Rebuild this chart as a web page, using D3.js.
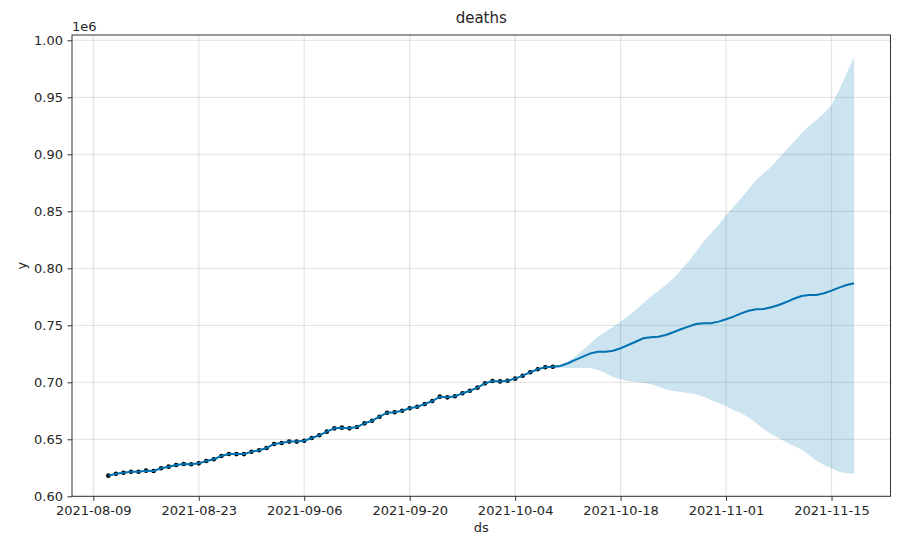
<!DOCTYPE html>
<html>
<head>
<meta charset="utf-8">
<script src="https://cdn.jsdelivr.net/npm/d3@7"></script>
<style>
  html, body { margin: 0; padding: 0; background: #fff; }
  svg { display: block; }
  text { font-family: "DejaVu Sans", sans-serif; fill: #262626; }
</style>
</head>
<body>
<svg id="chart" width="924" height="546"></svg>
<script>
// ---- data (values in units of 1e6) ----
const historyStart = "2021-08-11";
const observed = [
  0.6181, 0.6198, 0.6207, 0.6216, 0.6216, 0.6225, 0.6222, 0.6246, 0.6260, 0.6275,
  0.6283, 0.6281, 0.6289, 0.6310, 0.6325, 0.6353, 0.6371, 0.6370, 0.6370, 0.6391,
  0.6404, 0.6424, 0.6459, 0.6468, 0.6480, 0.6480, 0.6487, 0.6511, 0.6535, 0.6567,
  0.6596, 0.6602, 0.6596, 0.6608, 0.6640, 0.6663, 0.6698, 0.6733, 0.6737, 0.6750,
  0.6772, 0.6786, 0.6810, 0.6836, 0.6874, 0.6868, 0.6877, 0.6904, 0.6926, 0.6953,
  0.6991, 0.7011, 0.7008, 0.7014, 0.7032, 0.7058, 0.7088, 0.7114, 0.7132, 0.7137
];
const forecastStart = "2021-10-09";
const yhatForecast = [
  0.7137, 0.7143, 0.7167, 0.7196, 0.7225, 0.7254, 0.7268, 0.7268, 0.7277, 0.7298,
  0.7327, 0.7356, 0.7386, 0.7395, 0.7400, 0.7415, 0.7439, 0.7465, 0.7488, 0.7511,
  0.7518, 0.7518, 0.7532, 0.7553, 0.7576, 0.7605, 0.7628, 0.7640, 0.7643, 0.7658,
  0.7678, 0.7704, 0.7733, 0.7757, 0.7766, 0.7766, 0.7781, 0.7804, 0.7830, 0.7854,
  0.7868
];
const yhatUpper = [
  0.7150, 0.7155, 0.7181, 0.7231, 0.7283, 0.7342, 0.7400, 0.7444, 0.7488, 0.7532,
  0.7582, 0.7634, 0.7693, 0.7751, 0.7804, 0.7854, 0.7912, 0.7985, 0.8058, 0.8146,
  0.8233, 0.8307, 0.8380, 0.8468, 0.8540, 0.8614, 0.8693, 0.8775, 0.8833, 0.8891,
  0.8965, 0.9038, 0.9111, 0.9184, 0.9248, 0.9301, 0.9360, 0.9432, 0.9564, 0.9711,
  0.9856
];
const yhatLower = [
  0.7125, 0.7128, 0.7125, 0.7125, 0.7125, 0.7125, 0.7108, 0.7079, 0.7044, 0.7026,
  0.7011, 0.7003, 0.6997, 0.6985, 0.6961, 0.6939, 0.6924, 0.6915, 0.6904, 0.6895,
  0.6874, 0.6845, 0.6816, 0.6792, 0.6757, 0.6728, 0.6693, 0.6640, 0.6588, 0.6546,
  0.6509, 0.6474, 0.6441, 0.6412, 0.6362, 0.6312, 0.6275, 0.6246, 0.6216, 0.6202,
  0.6198
];
const xTickLabels = ["2021-08-09", "2021-08-23", "2021-09-06", "2021-09-20", "2021-10-04", "2021-10-18", "2021-11-01", "2021-11-15"];
const yTickValues = [0.60, 0.65, 0.70, 0.75, 0.80, 0.85, 0.90, 0.95, 1.00];
const titleText = "deaths";
const xLabel = "ds";
const yLabel = "y";
const offsetLabel = "1e6";

// ---- layout ----
const W = 924, H = 546;
const plot = { left: 72, top: 35, right: 890.5, bottom: 496.3 };
const parse = d3.utcParse("%Y-%m-%d");
const DAY = 86400000;

const hStart = parse(historyStart);
const fStart = parse(forecastStart);
const histDates = observed.map((_, i) => d3.utcDay.offset(hStart, i));
const fcDates = yhatForecast.map((_, i) => d3.utcDay.offset(fStart, i));

const first = histDates[0], last = fcDates[fcDates.length - 1];
const pad = 4.83 * DAY;
const x = d3.scaleUtc()
  .domain([new Date(+first - pad), new Date(+last + pad)])
  .range([plot.left, plot.right]);
const y = d3.scaleLinear()
  .domain([0.6, 1.00465])
  .range([plot.bottom, plot.top]);

const svg = d3.select("#chart");
svg.append("rect").attr("width", W).attr("height", H).attr("fill", "#fff");

// grid
const g = svg.append("g");
const xTicks = xTickLabels.map(parse);
g.selectAll("line.vg").data(xTicks).enter().append("line")
  .attr("x1", d => x(d)).attr("x2", d => x(d))
  .attr("y1", plot.top).attr("y2", plot.bottom)
  .attr("stroke", "#808080").attr("stroke-opacity", 0.2).attr("stroke-width", 1.3);
g.selectAll("line.hg").data(yTickValues).enter().append("line")
  .attr("x1", plot.left).attr("x2", plot.right)
  .attr("y1", d => y(d)).attr("y2", d => y(d))
  .attr("stroke", "#808080").attr("stroke-opacity", 0.2).attr("stroke-width", 1.3);

// clip
svg.append("clipPath").attr("id", "clip").append("rect")
  .attr("x", plot.left).attr("y", plot.top)
  .attr("width", plot.right - plot.left).attr("height", plot.bottom - plot.top);
const pg = svg.append("g").attr("clip-path", "url(#clip)");

// band
const bandData = fcDates.map((d, i) => ({ d, lo: yhatLower[i], hi: yhatUpper[i] }));
pg.append("path").datum(bandData)
  .attr("d", d3.area().x(p => x(p.d)).y0(p => y(p.lo)).y1(p => y(p.hi)))
  .attr("fill", "#0072B2").attr("fill-opacity", 0.2);

// observed points
pg.selectAll("circle").data(observed).enter().append("circle")
  .attr("cx", (v, i) => x(histDates[i])).attr("cy", v => y(v))
  .attr("r", 2.3).attr("fill", "#000");

// yhat line: fitted history + forecast
const lineData = histDates.map((d, i) => ({ d, v: observed[i] }))
  .concat(fcDates.slice(1).map((d, i) => ({ d, v: yhatForecast[i + 1] })));
pg.append("path").datum(lineData)
  .attr("d", d3.line().x(p => x(p.d)).y(p => y(p.v)))
  .attr("fill", "none").attr("stroke", "#0072B2").attr("stroke-width", 2);

// axes
const fmtDate = d3.utcFormat("%Y-%m-%d");
const xAxis = d3.axisBottom(x).tickValues(xTicks).tickFormat(fmtDate).tickSize(4.5).tickPadding(4.5);
const yAxis = d3.axisLeft(y).tickValues(yTickValues).tickFormat(d3.format(".2f")).tickSize(4.5).tickPadding(4.5);
const gx = svg.append("g").attr("transform", `translate(0,${plot.bottom})`).call(xAxis);
const gy = svg.append("g").attr("transform", `translate(${plot.left},0)`).call(yAxis);
[gx, gy].forEach(a => {
  a.select(".domain").remove();
  a.selectAll(".tick line").attr("stroke", "#333").attr("stroke-width", 1);
  a.selectAll(".tick text").attr("fill", "#262626").style("font-size", "13px")
    .style("font-family", "'DejaVu Sans', sans-serif");
});

// spines
svg.append("rect")
  .attr("x", plot.left).attr("y", plot.top)
  .attr("width", plot.right - plot.left).attr("height", plot.bottom - plot.top)
  .attr("fill", "none").attr("stroke", "#333").attr("stroke-width", 1);

// texts
svg.append("text").attr("x", (plot.left + plot.right) / 2).attr("y", 23)
  .attr("text-anchor", "middle").style("font-size", "15px").text(titleText);
svg.append("text").attr("x", (plot.left + plot.right) / 2).attr("y", 532)
  .attr("text-anchor", "middle").style("font-size", "13px").text(xLabel);
svg.append("text").attr("transform", `translate(26,${(plot.top + plot.bottom) / 2}) rotate(-90)`)
  .attr("text-anchor", "middle").style("font-size", "13px").text(yLabel);
svg.append("text").attr("x", plot.left).attr("y", 31)
  .attr("text-anchor", "start").style("font-size", "13px").text(offsetLabel);
</script>
</body>
</html>
